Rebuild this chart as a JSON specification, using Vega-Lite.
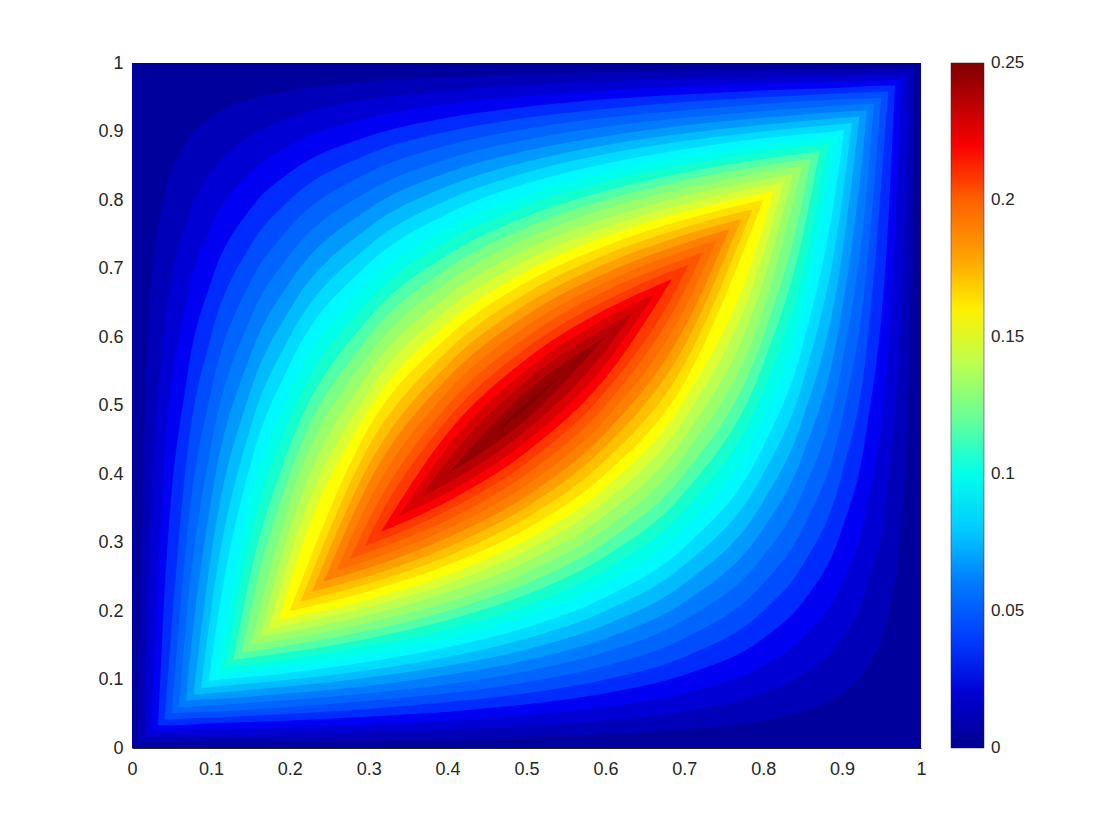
{"$schema":"https://vega.github.io/schema/vega-lite/v6.json","width":789,"height":685,"autosize":"none","padding":{"left":132,"top":63,"right":199,"bottom":92},"background":"white","config":{"view":{"stroke":null},"font":"Liberation Sans"},
"data":{"values":[
{"v":0.004,"x":0,"lo":0,"hi":1},{"v":0.004,"x":1,"lo":0,"hi":1},
{"v":0.012,"x":0.0081,"lo":0.0081,"hi":0.0081},{"v":0.012,"x":0.02,"lo":0.008,"hi":0.6},{"v":0.012,"x":0.04,"lo":0.008,"hi":0.8},{"v":0.012,"x":0.07,"lo":0.009,"hi":0.886},{"v":0.012,"x":0.1,"lo":0.009,"hi":0.92},{"v":0.012,"x":0.15,"lo":0.009,"hi":0.947},{"v":0.012,"x":0.2,"lo":0.01,"hi":0.96},{"v":0.012,"x":0.3,"lo":0.011,"hi":0.973},{"v":0.012,"x":0.4,"lo":0.013,"hi":0.98},{"v":0.012,"x":0.5,"lo":0.016,"hi":0.984},{"v":0.012,"x":0.6,"lo":0.02,"hi":0.987},{"v":0.012,"x":0.7,"lo":0.027,"hi":0.989},{"v":0.012,"x":0.8,"lo":0.04,"hi":0.99},{"v":0.012,"x":0.85,"lo":0.053,"hi":0.991},{"v":0.012,"x":0.9,"lo":0.08,"hi":0.991},{"v":0.012,"x":0.93,"lo":0.114,"hi":0.991},{"v":0.012,"x":0.96,"lo":0.2,"hi":0.992},{"v":0.012,"x":0.98,"lo":0.4,"hi":0.992},{"v":0.012,"x":0.9919,"lo":0.9919,"hi":0.9919},
{"v":0.02,"x":0.0163,"lo":0.0163,"hi":0.0163},{"v":0.02,"x":0.02,"lo":0.016,"hi":0.2},{"v":0.02,"x":0.04,"lo":0.017,"hi":0.6},{"v":0.02,"x":0.07,"lo":0.017,"hi":0.771},{"v":0.02,"x":0.1,"lo":0.018,"hi":0.84},{"v":0.02,"x":0.15,"lo":0.019,"hi":0.893},{"v":0.02,"x":0.2,"lo":0.02,"hi":0.92},{"v":0.02,"x":0.3,"lo":0.023,"hi":0.947},{"v":0.02,"x":0.4,"lo":0.027,"hi":0.96},{"v":0.02,"x":0.5,"lo":0.032,"hi":0.968},{"v":0.02,"x":0.6,"lo":0.04,"hi":0.973},{"v":0.02,"x":0.7,"lo":0.053,"hi":0.977},{"v":0.02,"x":0.8,"lo":0.08,"hi":0.98},{"v":0.02,"x":0.85,"lo":0.107,"hi":0.981},{"v":0.02,"x":0.9,"lo":0.16,"hi":0.982},{"v":0.02,"x":0.93,"lo":0.229,"hi":0.983},{"v":0.02,"x":0.96,"lo":0.4,"hi":0.983},{"v":0.02,"x":0.98,"lo":0.8,"hi":0.984},{"v":0.02,"x":0.9837,"lo":0.9837,"hi":0.9837},
{"v":0.028,"x":0.0246,"lo":0.0246,"hi":0.0246},{"v":0.028,"x":0.04,"lo":0.025,"hi":0.4},{"v":0.028,"x":0.07,"lo":0.026,"hi":0.657},{"v":0.028,"x":0.1,"lo":0.027,"hi":0.76},{"v":0.028,"x":0.15,"lo":0.028,"hi":0.84},{"v":0.028,"x":0.2,"lo":0.03,"hi":0.88},{"v":0.028,"x":0.3,"lo":0.034,"hi":0.92},{"v":0.028,"x":0.4,"lo":0.04,"hi":0.94},{"v":0.028,"x":0.5,"lo":0.048,"hi":0.952},{"v":0.028,"x":0.6,"lo":0.06,"hi":0.96},{"v":0.028,"x":0.7,"lo":0.08,"hi":0.966},{"v":0.028,"x":0.8,"lo":0.12,"hi":0.97},{"v":0.028,"x":0.85,"lo":0.16,"hi":0.972},{"v":0.028,"x":0.9,"lo":0.24,"hi":0.973},{"v":0.028,"x":0.93,"lo":0.343,"hi":0.974},{"v":0.028,"x":0.96,"lo":0.6,"hi":0.975},{"v":0.028,"x":0.9754,"lo":0.9754,"hi":0.9754},
{"v":0.036,"x":0.0331,"lo":0.0331,"hi":0.0331},{"v":0.036,"x":0.04,"lo":0.033,"hi":0.2},{"v":0.036,"x":0.07,"lo":0.034,"hi":0.543},{"v":0.036,"x":0.1,"lo":0.036,"hi":0.68},{"v":0.036,"x":0.15,"lo":0.038,"hi":0.787},{"v":0.036,"x":0.2,"lo":0.04,"hi":0.84},{"v":0.036,"x":0.3,"lo":0.046,"hi":0.893},{"v":0.036,"x":0.4,"lo":0.053,"hi":0.92},{"v":0.036,"x":0.5,"lo":0.064,"hi":0.936},{"v":0.036,"x":0.6,"lo":0.08,"hi":0.947},{"v":0.036,"x":0.7,"lo":0.107,"hi":0.954},{"v":0.036,"x":0.8,"lo":0.16,"hi":0.96},{"v":0.036,"x":0.85,"lo":0.213,"hi":0.962},{"v":0.036,"x":0.9,"lo":0.32,"hi":0.964},{"v":0.036,"x":0.93,"lo":0.457,"hi":0.966},{"v":0.036,"x":0.96,"lo":0.8,"hi":0.967},{"v":0.036,"x":0.9669,"lo":0.9669,"hi":0.9669},
{"v":0.044,"x":0.0417,"lo":0.0417,"hi":0.0417},{"v":0.044,"x":0.07,"lo":0.043,"hi":0.429},{"v":0.044,"x":0.1,"lo":0.044,"hi":0.6},{"v":0.044,"x":0.15,"lo":0.047,"hi":0.733},{"v":0.044,"x":0.2,"lo":0.05,"hi":0.8},{"v":0.044,"x":0.3,"lo":0.057,"hi":0.867},{"v":0.044,"x":0.4,"lo":0.067,"hi":0.9},{"v":0.044,"x":0.5,"lo":0.08,"hi":0.92},{"v":0.044,"x":0.6,"lo":0.1,"hi":0.933},{"v":0.044,"x":0.7,"lo":0.133,"hi":0.943},{"v":0.044,"x":0.8,"lo":0.2,"hi":0.95},{"v":0.044,"x":0.85,"lo":0.267,"hi":0.953},{"v":0.044,"x":0.9,"lo":0.4,"hi":0.956},{"v":0.044,"x":0.93,"lo":0.571,"hi":0.957},{"v":0.044,"x":0.9583,"lo":0.9583,"hi":0.9583},
{"v":0.052,"x":0.0506,"lo":0.0506,"hi":0.0506},{"v":0.052,"x":0.07,"lo":0.052,"hi":0.314},{"v":0.052,"x":0.1,"lo":0.053,"hi":0.52},{"v":0.052,"x":0.15,"lo":0.056,"hi":0.68},{"v":0.052,"x":0.2,"lo":0.06,"hi":0.76},{"v":0.052,"x":0.3,"lo":0.069,"hi":0.84},{"v":0.052,"x":0.4,"lo":0.08,"hi":0.88},{"v":0.052,"x":0.5,"lo":0.096,"hi":0.904},{"v":0.052,"x":0.6,"lo":0.12,"hi":0.92},{"v":0.052,"x":0.7,"lo":0.16,"hi":0.931},{"v":0.052,"x":0.8,"lo":0.24,"hi":0.94},{"v":0.052,"x":0.85,"lo":0.32,"hi":0.944},{"v":0.052,"x":0.9,"lo":0.48,"hi":0.947},{"v":0.052,"x":0.93,"lo":0.686,"hi":0.948},{"v":0.052,"x":0.9494,"lo":0.9494,"hi":0.9494},
{"v":0.06,"x":0.0595,"lo":0.0595,"hi":0.0595},{"v":0.06,"x":0.07,"lo":0.06,"hi":0.2},{"v":0.06,"x":0.1,"lo":0.062,"hi":0.44},{"v":0.06,"x":0.15,"lo":0.066,"hi":0.627},{"v":0.06,"x":0.2,"lo":0.07,"hi":0.72},{"v":0.06,"x":0.3,"lo":0.08,"hi":0.813},{"v":0.06,"x":0.4,"lo":0.093,"hi":0.86},{"v":0.06,"x":0.5,"lo":0.112,"hi":0.888},{"v":0.06,"x":0.6,"lo":0.14,"hi":0.907},{"v":0.06,"x":0.7,"lo":0.187,"hi":0.92},{"v":0.06,"x":0.8,"lo":0.28,"hi":0.93},{"v":0.06,"x":0.85,"lo":0.373,"hi":0.934},{"v":0.06,"x":0.9,"lo":0.56,"hi":0.938},{"v":0.06,"x":0.93,"lo":0.8,"hi":0.94},{"v":0.06,"x":0.9405,"lo":0.9405,"hi":0.9405},
{"v":0.068,"x":0.0687,"lo":0.0687,"hi":0.0687},{"v":0.068,"x":0.07,"lo":0.069,"hi":0.086},{"v":0.068,"x":0.1,"lo":0.071,"hi":0.36},{"v":0.068,"x":0.15,"lo":0.075,"hi":0.573},{"v":0.068,"x":0.2,"lo":0.08,"hi":0.68},{"v":0.068,"x":0.3,"lo":0.091,"hi":0.787},{"v":0.068,"x":0.4,"lo":0.107,"hi":0.84},{"v":0.068,"x":0.5,"lo":0.128,"hi":0.872},{"v":0.068,"x":0.6,"lo":0.16,"hi":0.893},{"v":0.068,"x":0.7,"lo":0.213,"hi":0.909},{"v":0.068,"x":0.8,"lo":0.32,"hi":0.92},{"v":0.068,"x":0.85,"lo":0.427,"hi":0.925},{"v":0.068,"x":0.9,"lo":0.64,"hi":0.929},{"v":0.068,"x":0.93,"lo":0.914,"hi":0.931},{"v":0.068,"x":0.9313,"lo":0.9313,"hi":0.9313},
{"v":0.076,"x":0.0781,"lo":0.0781,"hi":0.0781},{"v":0.076,"x":0.1,"lo":0.08,"hi":0.28},{"v":0.076,"x":0.15,"lo":0.085,"hi":0.52},{"v":0.076,"x":0.2,"lo":0.09,"hi":0.64},{"v":0.076,"x":0.3,"lo":0.103,"hi":0.76},{"v":0.076,"x":0.4,"lo":0.12,"hi":0.82},{"v":0.076,"x":0.5,"lo":0.144,"hi":0.856},{"v":0.076,"x":0.6,"lo":0.18,"hi":0.88},{"v":0.076,"x":0.7,"lo":0.24,"hi":0.897},{"v":0.076,"x":0.8,"lo":0.36,"hi":0.91},{"v":0.076,"x":0.85,"lo":0.48,"hi":0.915},{"v":0.076,"x":0.9,"lo":0.72,"hi":0.92},{"v":0.076,"x":0.9219,"lo":0.9219,"hi":0.9219},
{"v":0.084,"x":0.0877,"lo":0.0877,"hi":0.0877},{"v":0.084,"x":0.1,"lo":0.089,"hi":0.2},{"v":0.084,"x":0.15,"lo":0.094,"hi":0.467},{"v":0.084,"x":0.2,"lo":0.1,"hi":0.6},{"v":0.084,"x":0.3,"lo":0.114,"hi":0.733},{"v":0.084,"x":0.4,"lo":0.133,"hi":0.8},{"v":0.084,"x":0.5,"lo":0.16,"hi":0.84},{"v":0.084,"x":0.6,"lo":0.2,"hi":0.867},{"v":0.084,"x":0.7,"lo":0.267,"hi":0.886},{"v":0.084,"x":0.8,"lo":0.4,"hi":0.9},{"v":0.084,"x":0.85,"lo":0.533,"hi":0.906},{"v":0.084,"x":0.9,"lo":0.8,"hi":0.911},{"v":0.084,"x":0.9123,"lo":0.9123,"hi":0.9123},
{"v":0.092,"x":0.0975,"lo":0.0975,"hi":0.0975},{"v":0.092,"x":0.1,"lo":0.098,"hi":0.12},{"v":0.092,"x":0.15,"lo":0.104,"hi":0.413},{"v":0.092,"x":0.2,"lo":0.11,"hi":0.56},{"v":0.092,"x":0.3,"lo":0.126,"hi":0.707},{"v":0.092,"x":0.4,"lo":0.147,"hi":0.78},{"v":0.092,"x":0.5,"lo":0.176,"hi":0.824},{"v":0.092,"x":0.6,"lo":0.22,"hi":0.853},{"v":0.092,"x":0.7,"lo":0.293,"hi":0.874},{"v":0.092,"x":0.8,"lo":0.44,"hi":0.89},{"v":0.092,"x":0.85,"lo":0.587,"hi":0.896},{"v":0.092,"x":0.9,"lo":0.88,"hi":0.902},{"v":0.092,"x":0.9025,"lo":0.9025,"hi":0.9025},
{"v":0.1,"x":0.1076,"lo":0.1076,"hi":0.1076},{"v":0.1,"x":0.15,"lo":0.113,"hi":0.36},{"v":0.1,"x":0.2,"lo":0.12,"hi":0.52},{"v":0.1,"x":0.3,"lo":0.137,"hi":0.68},{"v":0.1,"x":0.4,"lo":0.16,"hi":0.76},{"v":0.1,"x":0.5,"lo":0.192,"hi":0.808},{"v":0.1,"x":0.6,"lo":0.24,"hi":0.84},{"v":0.1,"x":0.7,"lo":0.32,"hi":0.863},{"v":0.1,"x":0.8,"lo":0.48,"hi":0.88},{"v":0.1,"x":0.85,"lo":0.64,"hi":0.887},{"v":0.1,"x":0.8924,"lo":0.8924,"hi":0.8924},
{"v":0.108,"x":0.1179,"lo":0.1179,"hi":0.1179},{"v":0.108,"x":0.15,"lo":0.122,"hi":0.307},{"v":0.108,"x":0.2,"lo":0.13,"hi":0.48},{"v":0.108,"x":0.3,"lo":0.149,"hi":0.653},{"v":0.108,"x":0.4,"lo":0.173,"hi":0.74},{"v":0.108,"x":0.5,"lo":0.208,"hi":0.792},{"v":0.108,"x":0.6,"lo":0.26,"hi":0.827},{"v":0.108,"x":0.7,"lo":0.347,"hi":0.851},{"v":0.108,"x":0.8,"lo":0.52,"hi":0.87},{"v":0.108,"x":0.85,"lo":0.693,"hi":0.878},{"v":0.108,"x":0.8821,"lo":0.8821,"hi":0.8821},
{"v":0.116,"x":0.1285,"lo":0.1285,"hi":0.1285},{"v":0.116,"x":0.15,"lo":0.132,"hi":0.253},{"v":0.116,"x":0.2,"lo":0.14,"hi":0.44},{"v":0.116,"x":0.3,"lo":0.16,"hi":0.627},{"v":0.116,"x":0.4,"lo":0.187,"hi":0.72},{"v":0.116,"x":0.5,"lo":0.224,"hi":0.776},{"v":0.116,"x":0.6,"lo":0.28,"hi":0.813},{"v":0.116,"x":0.7,"lo":0.373,"hi":0.84},{"v":0.116,"x":0.8,"lo":0.56,"hi":0.86},{"v":0.116,"x":0.85,"lo":0.747,"hi":0.868},{"v":0.116,"x":0.8715,"lo":0.8715,"hi":0.8715},
{"v":0.124,"x":0.1394,"lo":0.1394,"hi":0.1394},{"v":0.124,"x":0.15,"lo":0.141,"hi":0.2},{"v":0.124,"x":0.2,"lo":0.15,"hi":0.4},{"v":0.124,"x":0.3,"lo":0.171,"hi":0.6},{"v":0.124,"x":0.4,"lo":0.2,"hi":0.7},{"v":0.124,"x":0.5,"lo":0.24,"hi":0.76},{"v":0.124,"x":0.6,"lo":0.3,"hi":0.8},{"v":0.124,"x":0.7,"lo":0.4,"hi":0.829},{"v":0.124,"x":0.8,"lo":0.6,"hi":0.85},{"v":0.124,"x":0.85,"lo":0.8,"hi":0.859},{"v":0.124,"x":0.8606,"lo":0.8606,"hi":0.8606},
{"v":0.132,"x":0.1507,"lo":0.1507,"hi":0.1507},{"v":0.132,"x":0.2,"lo":0.16,"hi":0.36},{"v":0.132,"x":0.3,"lo":0.183,"hi":0.573},{"v":0.132,"x":0.4,"lo":0.213,"hi":0.68},{"v":0.132,"x":0.5,"lo":0.256,"hi":0.744},{"v":0.132,"x":0.6,"lo":0.32,"hi":0.787},{"v":0.132,"x":0.7,"lo":0.427,"hi":0.817},{"v":0.132,"x":0.8,"lo":0.64,"hi":0.84},{"v":0.132,"x":0.8493,"lo":0.8493,"hi":0.8493},
{"v":0.14,"x":0.1624,"lo":0.1624,"hi":0.1624},{"v":0.14,"x":0.2,"lo":0.17,"hi":0.32},{"v":0.14,"x":0.3,"lo":0.194,"hi":0.547},{"v":0.14,"x":0.4,"lo":0.227,"hi":0.66},{"v":0.14,"x":0.5,"lo":0.272,"hi":0.728},{"v":0.14,"x":0.6,"lo":0.34,"hi":0.773},{"v":0.14,"x":0.7,"lo":0.453,"hi":0.806},{"v":0.14,"x":0.8,"lo":0.68,"hi":0.83},{"v":0.14,"x":0.8376,"lo":0.8376,"hi":0.8376},
{"v":0.148,"x":0.1744,"lo":0.1744,"hi":0.1744},{"v":0.148,"x":0.2,"lo":0.18,"hi":0.28},{"v":0.148,"x":0.3,"lo":0.206,"hi":0.52},{"v":0.148,"x":0.4,"lo":0.24,"hi":0.64},{"v":0.148,"x":0.5,"lo":0.288,"hi":0.712},{"v":0.148,"x":0.6,"lo":0.36,"hi":0.76},{"v":0.148,"x":0.7,"lo":0.48,"hi":0.794},{"v":0.148,"x":0.8,"lo":0.72,"hi":0.82},{"v":0.148,"x":0.8256,"lo":0.8256,"hi":0.8256},
{"v":0.156,"x":0.187,"lo":0.187,"hi":0.187},{"v":0.156,"x":0.2,"lo":0.19,"hi":0.24},{"v":0.156,"x":0.3,"lo":0.217,"hi":0.493},{"v":0.156,"x":0.4,"lo":0.253,"hi":0.62},{"v":0.156,"x":0.5,"lo":0.304,"hi":0.696},{"v":0.156,"x":0.6,"lo":0.38,"hi":0.747},{"v":0.156,"x":0.7,"lo":0.507,"hi":0.783},{"v":0.156,"x":0.8,"lo":0.76,"hi":0.81},{"v":0.156,"x":0.813,"lo":0.813,"hi":0.813},
{"v":0.164,"x":0.2,"lo":0.2,"hi":0.2},{"v":0.164,"x":0.3,"lo":0.229,"hi":0.467},{"v":0.164,"x":0.4,"lo":0.267,"hi":0.6},{"v":0.164,"x":0.5,"lo":0.32,"hi":0.68},{"v":0.164,"x":0.6,"lo":0.4,"hi":0.733},{"v":0.164,"x":0.7,"lo":0.533,"hi":0.771},{"v":0.164,"x":0.8,"lo":0.8,"hi":0.8},
{"v":0.172,"x":0.2136,"lo":0.2136,"hi":0.2136},{"v":0.172,"x":0.3,"lo":0.24,"hi":0.44},{"v":0.172,"x":0.4,"lo":0.28,"hi":0.58},{"v":0.172,"x":0.5,"lo":0.336,"hi":0.664},{"v":0.172,"x":0.6,"lo":0.42,"hi":0.72},{"v":0.172,"x":0.7,"lo":0.56,"hi":0.76},{"v":0.172,"x":0.7864,"lo":0.7864,"hi":0.7864},
{"v":0.18,"x":0.228,"lo":0.228,"hi":0.228},{"v":0.18,"x":0.3,"lo":0.251,"hi":0.413},{"v":0.18,"x":0.4,"lo":0.293,"hi":0.56},{"v":0.18,"x":0.5,"lo":0.352,"hi":0.648},{"v":0.18,"x":0.6,"lo":0.44,"hi":0.707},{"v":0.18,"x":0.7,"lo":0.587,"hi":0.749},{"v":0.18,"x":0.772,"lo":0.772,"hi":0.772},
{"v":0.188,"x":0.2431,"lo":0.2431,"hi":0.2431},{"v":0.188,"x":0.3,"lo":0.263,"hi":0.387},{"v":0.188,"x":0.4,"lo":0.307,"hi":0.54},{"v":0.188,"x":0.5,"lo":0.368,"hi":0.632},{"v":0.188,"x":0.6,"lo":0.46,"hi":0.693},{"v":0.188,"x":0.7,"lo":0.613,"hi":0.737},{"v":0.188,"x":0.7569,"lo":0.7569,"hi":0.7569},
{"v":0.196,"x":0.2592,"lo":0.2592,"hi":0.2592},{"v":0.196,"x":0.3,"lo":0.274,"hi":0.36},{"v":0.196,"x":0.4,"lo":0.32,"hi":0.52},{"v":0.196,"x":0.5,"lo":0.384,"hi":0.616},{"v":0.196,"x":0.6,"lo":0.48,"hi":0.68},{"v":0.196,"x":0.7,"lo":0.64,"hi":0.726},{"v":0.196,"x":0.7408,"lo":0.7408,"hi":0.7408},
{"v":0.204,"x":0.2764,"lo":0.2764,"hi":0.2764},{"v":0.204,"x":0.3,"lo":0.286,"hi":0.333},{"v":0.204,"x":0.4,"lo":0.333,"hi":0.5},{"v":0.204,"x":0.5,"lo":0.4,"hi":0.6},{"v":0.204,"x":0.6,"lo":0.5,"hi":0.667},{"v":0.204,"x":0.7,"lo":0.667,"hi":0.714},{"v":0.204,"x":0.7236,"lo":0.7236,"hi":0.7236},
{"v":0.212,"x":0.2951,"lo":0.2951,"hi":0.2951},{"v":0.212,"x":0.3,"lo":0.297,"hi":0.307},{"v":0.212,"x":0.4,"lo":0.347,"hi":0.48},{"v":0.212,"x":0.5,"lo":0.416,"hi":0.584},{"v":0.212,"x":0.6,"lo":0.52,"hi":0.653},{"v":0.212,"x":0.7,"lo":0.693,"hi":0.703},{"v":0.212,"x":0.7049,"lo":0.7049,"hi":0.7049},
{"v":0.22,"x":0.3156,"lo":0.3156,"hi":0.3156},{"v":0.22,"x":0.4,"lo":0.36,"hi":0.46},{"v":0.22,"x":0.5,"lo":0.432,"hi":0.568},{"v":0.22,"x":0.6,"lo":0.54,"hi":0.64},{"v":0.22,"x":0.6844,"lo":0.6844,"hi":0.6844},
{"v":0.228,"x":0.3388,"lo":0.3388,"hi":0.3388},{"v":0.228,"x":0.4,"lo":0.373,"hi":0.44},{"v":0.228,"x":0.5,"lo":0.448,"hi":0.552},{"v":0.228,"x":0.6,"lo":0.56,"hi":0.627},{"v":0.228,"x":0.6612,"lo":0.6612,"hi":0.6612},
{"v":0.236,"x":0.3658,"lo":0.3658,"hi":0.3658},{"v":0.236,"x":0.4,"lo":0.387,"hi":0.42},{"v":0.236,"x":0.5,"lo":0.464,"hi":0.536},{"v":0.236,"x":0.6,"lo":0.58,"hi":0.613},{"v":0.236,"x":0.6342,"lo":0.6342,"hi":0.6342},
{"v":0.244,"x":0.4,"lo":0.4,"hi":0.4},{"v":0.244,"x":0.5,"lo":0.48,"hi":0.52},{"v":0.244,"x":0.6,"lo":0.6,"hi":0.6},
{"v":0.25,"x":0.4553,"lo":0.4553,"hi":0.4553},{"v":0.25,"x":0.5,"lo":0.496,"hi":0.504},{"v":0.25,"x":0.5447,"lo":0.5447,"hi":0.5447}
]},
"mark":{"type":"area","interpolate":"monotone","clip":true},
"encoding":{
"x":{"field":"x","type":"quantitative","scale":{"domain":[0,1]},"axis":{"title":null,"values":[0,0.1,0.2,0.3,0.4,0.5,0.6,0.7,0.8,0.9,1],"labelExpr":"format(datum.value,'.1~f')","labelFontSize":18,"labelColor":"#262626","ticks":false,"domain":true,"domainColor":"#262626","domainWidth":1,"grid":false,"labelPadding":12,"labelFlush":false,"zindex":1}},
"y":{"field":"lo","type":"quantitative","scale":{"domain":[0,1]},"axis":{"title":null,"values":[0,0.1,0.2,0.3,0.4,0.5,0.6,0.7,0.8,0.9,1],"labelExpr":"format(datum.value,'.1~f')","labelFontSize":18,"labelColor":"#262626","ticks":false,"domain":false,"grid":false,"labelPadding":9,"labelFlush":false}},
"y2":{"field":"hi"},
"detail":{"field":"v"},
"color":{"field":"v","type":"quantitative","scale":{"domain":[0,0.25],"range":["#00008f","#0000ff","#0080ff","#00ffff","#80ff80","#ffff00","#ff8000","#ff0000","#800000"]},"legend":{"type":"gradient","title":null,"orient":"none","legendX":819,"legendY":0,"direction":"vertical","gradientLength":685,"gradientThickness":33,"gradientStrokeColor":"#262626","gradientStrokeWidth":0.5,"values":[0,0.05,0.1,0.15,0.2,0.25],"labelExpr":"format(datum.value,'.2~f')","labelFontSize":17,"labelColor":"#262626","labelOffset":7,"labelOverlap":false,"encode":{"labels":{"update":{"baseline":{"value":"middle"}}}}}}
}}
